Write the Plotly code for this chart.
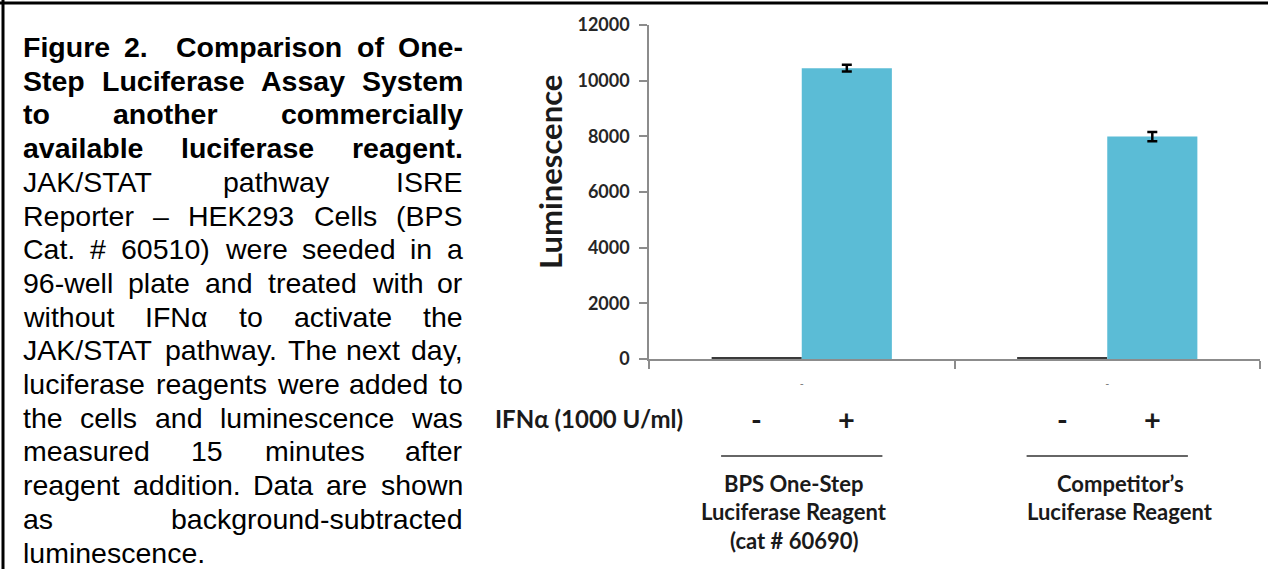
import plotly.graph_objects as go

W, H = 1268, 569

# ---------------- data ----------------
group_lines = [["BPS One-Step", "Luciferase Reagent", "(cat # 60690)"],
               ["Competitor’s", "Luciferase Reagent"]]
categories = [" ".join(g) for g in group_lines]
tick_text = ["-", "-"]
treat_labels = ["-", "+"]
ifn_label = "IFNα (1000 U/ml)"
minus_values = [60, 60]
plus_values = [10450, 7990]
plus_errors = [120, 170]
y_ticks = [0, 2000, 4000, 6000, 8000, 10000, 12000]
y_title = "Luminescence"

caption_bold = [
    "Figure 2.  Comparison of One-",
    "Step Luciferase Assay System",
    "to another commercially",
    "available luciferase reagent.",
]
caption_regular = [
    "JAK/STAT pathway ISRE",
    "Reporter – HEK293 Cells (BPS",
    "Cat. # 60510) were seeded in a",
    "96-well plate and treated with or",
    "without IFNα to activate the",
    "JAK/STAT pathway. The next day,",
    "luciferase reagents were added to",
    "the cells and luminescence was",
    "measured 15 minutes after",
    "reagent addition. Data are shown",
    "as background-subtracted",
    "luminescence.",
]

# ---------------- helpers ----------------
def px(x):
    return x / W

def py(y):
    return 1 - y / H

LOW_R = dict(zip("abcdefghijklmnopqrstuvwxyz",
                 [556, 556, 500, 556, 556, 278, 556, 556, 222, 222, 500, 222, 833,
                  556, 556, 556, 556, 333, 500, 278, 556, 500, 722, 500, 500, 500]))
LOW_B = dict(zip("abcdefghijklmnopqrstuvwxyz",
                 [556, 611, 556, 611, 556, 333, 611, 611, 278, 278, 556, 278, 889,
                  611, 611, 611, 611, 389, 556, 333, 611, 556, 778, 556, 556, 500]))
UP_R = dict(zip("ABCDEFGHIJKLMNOPQRSTUVWXYZ",
                [667, 667, 722, 722, 667, 611, 778, 722, 278, 500, 667, 556, 833,
                 722, 778, 667, 778, 722, 667, 611, 722, 667, 944, 667, 667, 611]))
UP_B = dict(zip("ABCDEFGHIJKLMNOPQRSTUVWXYZ",
                [722, 722, 722, 722, 667, 611, 778, 722, 278, 556, 722, 611, 833,
                 722, 778, 667, 778, 722, 667, 611, 722, 667, 944, 667, 667, 611]))
PUNCT = {".": 278, ",": 278, "-": 333, "/": 278, "(": 333, ")": 333, "#": 556,
         "–": 556, ":": 278, "α": 580, " ": 278}
for d in "0123456789":
    PUNCT[d] = 556


def tw(s, bold, size):
    tot = 0
    for ch in s:
        if ch in PUNCT:
            tot += PUNCT[ch]
        elif bold:
            tot += LOW_B.get(ch, UP_B.get(ch, 556))
        else:
            tot += LOW_R.get(ch, UP_R.get(ch, 556))
    return tot / 1000 * size


CAP_FONT = "Liberation Sans, Arial, sans-serif"
CAP_SIZE = 28.5
LEFT, RIGHT = 23, 463
LINE0, LSTEP = 47, 33.7

annotations = []
all_lines = [(t, True) for t in caption_bold] + [(t, False) for t in caption_regular]
for i, (line, bold) in enumerate(all_lines):
    yv = py(LINE0 + i * LSTEP)
    font = dict(family=CAP_FONT, size=CAP_SIZE, color="black",
                weight="bold" if bold else "normal")
    tokens = line.split(" ")
    last = i == len(all_lines) - 1
    if last or len(tokens) < 2:
        annotations.append(dict(text=line, x=px(LEFT), y=yv, xref="paper", yref="paper",
                                xanchor="left", yanchor="middle", showarrow=False,
                                font=font, borderpad=0, borderwidth=0))
        continue
    widths = [tw(t, bold, CAP_SIZE) for t in tokens]
    gap = (RIGHT - LEFT - sum(widths)) / (len(tokens) - 1)
    xpos = LEFT
    for k, (t, w) in enumerate(zip(tokens, widths)):
        if t:
            if k == len(tokens) - 1:
                annotations.append(dict(text=t, x=px(RIGHT), y=yv, xref="paper", yref="paper",
                                        xanchor="right", yanchor="middle", showarrow=False,
                                        font=font, borderpad=0, borderwidth=0))
            else:
                annotations.append(dict(text=t, x=px(xpos), y=yv, xref="paper", yref="paper",
                                        xanchor="left", yanchor="middle", showarrow=False,
                                        font=font, borderpad=0, borderwidth=0))
        xpos += w + gap

# ---------------- chart ----------------
CH_FONT = "Lato, Open Sans, sans-serif"
AX_COLOR = "#8c8c8c"
TXT = "#1a1a1a"

fig = go.Figure()
fig.add_trace(go.Bar(x=categories, y=minus_values, name="-",
                     marker=dict(color="#3a3a3a", line=dict(width=0))))
fig.add_trace(go.Bar(x=categories, y=plus_values, name="+",
                     marker=dict(color="#5bbcd6", line=dict(width=0)),
                     error_y=dict(type="data", array=plus_errors, color="black",
                                  thickness=2.5, width=5)))

BAR_HALF = 45
for gi, cat in enumerate(categories):
    for ti, lab in enumerate(treat_labels):
        annotations.append(dict(text=lab, x=gi, xref="x", xshift=(-BAR_HALF if ti == 0 else BAR_HALF),
                                y=py(418), yref="paper", showarrow=False,
                                xanchor="center", yanchor="middle",
                                font=dict(family=CH_FONT, size=29, color=TXT, weight="bold")))
label_shift = [-8, 13]
for gi, lines in enumerate(group_lines):
    for li, txt in enumerate(lines):
        annotations.append(dict(text=txt, x=gi, xref="x", xshift=label_shift[gi],
                                y=py(483 + li * 28.5), yref="paper", showarrow=False,
                                xanchor="center", yanchor="middle",
                                font=dict(family=CH_FONT, size=22, color=TXT, weight="bold")))

annotations.append(dict(text=ifn_label, x=px(589), y=py(418), xref="paper", yref="paper",
                        showarrow=False, xanchor="center", yanchor="middle",
                        font=dict(family=CH_FONT, size=24, color=TXT, weight="bold")))
annotations.append(dict(text=y_title, x=px(550), y=py(172), xref="paper", yref="paper",
                        showarrow=False, textangle=-90, xanchor="center", yanchor="middle",
                        font=dict(family=CH_FONT, size=31, color=TXT, weight="bold")))

shapes = []
for gi in range(len(categories)):
    shapes.append(dict(type="line", xref="x", yref="paper", x0=gi - 0.264, x1=gi + 0.264,
                       y0=py(456), y1=py(456), line=dict(color="#333333", width=1.5)))
# frame (top and left rules)
shapes.append(dict(type="line", xref="paper", yref="paper", x0=0, x1=1,
                   y0=py(3), y1=py(3), line=dict(color="black", width=3)))
shapes.append(dict(type="line", xref="paper", yref="paper", x0=px(3), x1=px(3),
                   y0=0, y1=1, line=dict(color="black", width=3)))

fig.update_layout(
    width=W, height=H, margin=dict(l=0, r=0, t=0, b=0, autoexpand=False),
    paper_bgcolor="white", plot_bgcolor="white", showlegend=False,
    barmode="group", bargap=0.41, bargroupgap=0,
    xaxis=dict(domain=[px(649), px(1260)], type="category",
               categoryorder="array", categoryarray=categories, range=[-0.5, 1.5],
               tickmode="array", tickvals=categories, ticktext=tick_text,
               tickson="boundaries", ticks="outside", ticklen=8, tickcolor=AX_COLOR,
               tickwidth=1.5, showline=True, linecolor=AX_COLOR, linewidth=1.5,
               showgrid=False, zeroline=False, ticklabelstandoff=14, automargin=False,
               tickfont=dict(family=CH_FONT, size=11, color="#777777")),
    yaxis=dict(domain=[py(359), py(25)], range=[0, 12000], tickmode="array",
               tickvals=y_ticks, tickformat="d", ticks="outside", ticklen=8, tickcolor=AX_COLOR,
               tickwidth=1.5, showline=True, linecolor=AX_COLOR, linewidth=1.5,
               showgrid=False, zeroline=False, ticklabelstandoff=6, automargin=False,
               tickfont=dict(family=CH_FONT, size=18, color="#262626", weight="bold")),
    annotations=annotations, shapes=shapes,
)

fig.write_html("out.html", config={"displayModeBar": False},
               post_script="document.body.style.margin='0';document.body.style.overflow='hidden';")
